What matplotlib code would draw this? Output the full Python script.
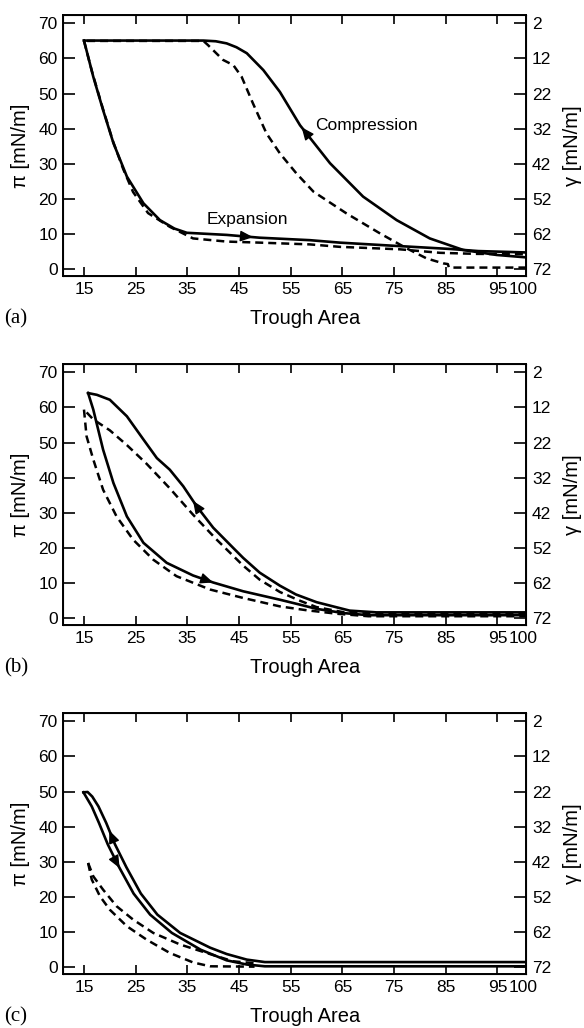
import numpy as np
import matplotlib
matplotlib.use('Agg')
from matplotlib import pyplot as plt

plt.rcParams['font.family'] = ['Liberation Sans', 'DejaVu Sans']

# axis ticks
x_ticks = [15, 25, 35, 45, 55, 65, 75, 85, 95, 100]
pi_ticks = [0, 10, 20, 30, 40, 50, 60, 70]
gamma_labels = ['72', '62', '52', '42', '32', '22', '12', '2']

# panel (a) -- compression listed from large to small area, expansion the other way
a_comp_x = [100.6, 94.8, 88.4, 81.9, 75.5, 69.0, 62.6, 56.8, 52.9, 49.7, 46.5, 44.5, 42.6, 40.5, 38.1, 30, 15]
a_comp_y = [3.4, 4.1, 5.5, 8.8, 14.0, 20.7, 30.2, 41.0, 50.5, 56.7, 61.5, 63.2, 64.3, 64.9, 65.1, 65.1, 65.1]
a_exp_x = [15, 16.8, 18.7, 20.7, 23.3, 26.5, 29.7, 32.5, 34.9, 42.6, 49.0, 58.7, 64.5, 75.0, 85.8, 91.3, 100.6]
a_exp_y = [65.1, 54.8, 45.3, 35.9, 26.4, 18.8, 14.0, 11.6, 10.4, 9.8, 9.0, 8.3, 7.6, 6.7, 5.8, 5.2, 4.8]
a_dcomp_x = [100.6, 85.6, 85.4, 84.5, 81.3, 77.4, 72.3, 65.8, 59.4, 56.1, 52.9, 50.3, 47.7, 45.5, 43.9, 41.9, 39.0, 38.1, 15]
a_dcomp_y = [0.5, 0.5, 1.5, 1.7, 3.1, 6.0, 10.2, 15.9, 22.1, 27.3, 33.0, 38.7, 47.2, 54.8, 58.1, 59.6, 63.8, 65.0, 65.0]
a_dexp_x = [15, 16.6, 18.6, 20.6, 22.6, 24.5, 27.4, 31.6, 36.1, 42.6, 49.0, 58.7, 64.5, 76.1, 83.9, 91.0, 100.6]
a_dexp_y = [65.0, 56.0, 46.0, 36.5, 28.5, 22.0, 16.0, 12.1, 8.8, 7.9, 7.6, 7.1, 6.4, 5.7, 4.7, 4.4, 4.3]

# panel (b)
b_comp_x = [100.6, 85, 71.6, 66.4, 60.0, 56.0, 52.9, 49.0, 45.8, 43.9, 40.0, 36.8, 34.2, 31.6, 29.1, 26.5, 23.3, 20.0, 17.5, 15.8]
b_comp_y = [1.7, 1.7, 1.7, 2.2, 4.6, 6.8, 9.3, 13.0, 17.2, 20.0, 25.8, 31.9, 37.6, 42.3, 45.6, 50.9, 57.5, 62.2, 63.6, 64.1]
b_exp_x = [15.8, 16.8, 18.7, 20.7, 23.3, 26.5, 31.0, 36.1, 40.0, 45.8, 52.9, 56.5, 60.0, 65.2, 70, 100.6]
b_exp_y = [64.1, 59.4, 48.0, 38.5, 29.0, 21.5, 15.8, 12.2, 10.2, 7.7, 5.3, 4.0, 2.7, 1.5, 0.9, 0.9]
b_dcomp_x = [100.6, 70, 65, 60.0, 56.8, 52.9, 49.0, 45.8, 40.6, 36.1, 31.6, 27.1, 23.3, 20.0, 16.8, 15.0]
b_dcomp_y = [1.3, 1.3, 1.8, 3.2, 5.0, 7.5, 11.0, 15.0, 22.5, 29.5, 37.0, 44.0, 49.3, 53.5, 56.6, 59.4]
b_dexp_x = [15.0, 15.5, 16.8, 18.7, 21.3, 24.5, 28.4, 32.9, 39.4, 45.8, 52.9, 58.1, 64, 70, 100.6]
b_dexp_y = [59.4, 51.8, 45.2, 36.6, 29.0, 22.4, 16.7, 12.0, 8.2, 5.8, 3.4, 2.3, 1.3, 0.6, 0.6]

# panel (c)
c_comp_x = [100.6, 50, 46.5, 42.6, 39.4, 33.6, 29.2, 26.0, 23.2, 21.0, 19.3, 17.8, 16.6, 15.7, 14.9]
c_comp_y = [1.5, 1.5, 2.2, 3.8, 5.6, 9.8, 15.0, 21.0, 28.5, 35.0, 41.1, 45.8, 48.6, 49.9, 49.8]
c_exp_x = [14.9, 15.7, 16.5, 17.9, 19.6, 21.8, 24.6, 27.8, 32.0, 37.6, 42.6, 46.5, 50, 100.6]
c_exp_y = [49.8, 47.8, 45.8, 41.1, 35.0, 28.5, 21.0, 15.0, 9.8, 5.0, 2.0, 0.8, 0.3, 0.3]
c_dcomp_x = [15.8, 16.8, 18.7, 21.3, 24.5, 28.4, 33.6, 38.7, 43.9, 48]
c_dcomp_y = [29.7, 25.9, 22.1, 17.4, 13.6, 9.8, 6.5, 4.1, 1.7, 1.2]
c_dexp_x = [15.8, 16.5, 18.1, 20.0, 23.3, 27.1, 31.6, 36.1, 39.4, 48]
c_dexp_y = [29.7, 25.0, 20.2, 16.4, 11.7, 7.9, 4.1, 1.4, 0.3, 0.2]

# where the direction arrows sit (trough area) on compression / expansion
arrow_at = {'a': (57.1, 47.7), 'b': (36.1, 40.0), 'c': (19.9, 21.9)}

panels = [
    ('a', (a_comp_x, a_comp_y), (a_exp_x, a_exp_y), (a_dcomp_x, a_dcomp_y), (a_dexp_x, a_dexp_y)),
    ('b', (b_comp_x, b_comp_y), (b_exp_x, b_exp_y), (b_dcomp_x, b_dcomp_y), (b_dexp_x, b_dexp_y)),
    ('c', (c_comp_x, c_comp_y), (c_exp_x, c_exp_y), (c_dcomp_x, c_dcomp_y), (c_dexp_x, c_dexp_y)),
]


def add_arrow(ax, xs, ys, x_at):
    '''put an arrow head on the curve at x_at, pointing the way the list runs'''
    for i in range(len(xs) - 1):
        lo, hi = sorted((xs[i], xs[i + 1]))
        if lo <= x_at <= hi and xs[i] != xs[i + 1]:
            t = (x_at - xs[i]) / (xs[i + 1] - xs[i])
            y_at = ys[i] + t * (ys[i + 1] - ys[i])
            dx = xs[i + 1] - xs[i]
            dy = ys[i + 1] - ys[i]
            break
    n = np.hypot(dx / 89.6, dy / 74.3)
    dx, dy = dx / n * 0.03, dy / n * 0.03
    ax.annotate('', xy=(x_at, y_at), xytext=(x_at - dx, y_at - dy),
                arrowprops=dict(arrowstyle='-|>,head_length=0.7,head_width=0.3',
                                color='k', lw=1.0, mutation_scale=11,
                                shrinkA=0, shrinkB=0))


fig = plt.figure(figsize=(5.84, 10.28), dpi=100)
bottoms = [0.7315, 0.392, 0.0525]
dash = (0, (3.2, 2.0))

for (name, comp, exp, dcomp, dexp), bot in zip(panels, bottoms):
    ax = fig.add_axes([0.1084, bot, 0.793, 0.254])
    ax.plot(dcomp[0], dcomp[1], color='k', lw=1.8, linestyle=dash)
    ax.plot(dexp[0], dexp[1], color='k', lw=1.8, linestyle=dash)
    ax.plot(comp[0], comp[1], color='k', lw=1.9)
    ax.plot(exp[0], exp[1], color='k', lw=1.9)
    add_arrow(ax, comp[0], comp[1], arrow_at[name][0])
    add_arrow(ax, exp[0], exp[1], arrow_at[name][1])

    ax.set_xlim(11.0, 100.6)
    ax.set_ylim(-1.9, 72.4)
    ax.set_xticks(x_ticks)
    ax.set_xticklabels([str(v) for v in x_ticks])
    ax.set_yticks(pi_ticks)
    ax.tick_params(axis='x', direction='in', length=6.5, width=1.2, top=True,
                   labelsize=12.5, pad=4)
    ax.tick_params(axis='y', direction='in', length=8.5, width=1.2, right=False,
                   labelsize=12.5, pad=4)
    for t in (ax.xaxis.get_major_ticks()[-1],):
        t.tick1line.set_visible(False)
        t.tick2line.set_visible(False)
    for s in ax.spines.values():
        s.set_linewidth(1.4)

    ax2 = ax.twinx()
    ax2.set_ylim(ax.get_ylim())
    ax2.set_yticks(pi_ticks)
    ax2.set_yticklabels(gamma_labels)
    ax2.tick_params(axis='y', direction='in', length=8.5, width=1.2,
                    labelsize=12.5, pad=4)

    ax.text(-0.092, 0.5, 'π [mN/m]', transform=ax.transAxes, rotation=90,
            ha='center', va='center', fontsize=14.5)
    ax.text(1.099, 0.5, 'γ [mN/m]', transform=ax.transAxes, rotation=90,
            ha='center', va='center', fontsize=14.5)
    ax.text(0.522, -0.163, 'Trough Area', transform=ax.transAxes,
            ha='center', va='center', fontsize=14.5)
    ax.text(-0.128, -0.163, '(%s)' % name, transform=ax.transAxes,
            ha='left', va='center', fontsize=15, family=['Liberation Serif', 'DejaVu Serif'])

    if name == 'a':
        ax.text(59.8, 41.0, 'Compression', ha='left', va='center', fontsize=12.5)
        ax.text(38.7, 14.3, 'Expansion', ha='left', va='center', fontsize=12.5)

fig.savefig('out.png', dpi=100)
